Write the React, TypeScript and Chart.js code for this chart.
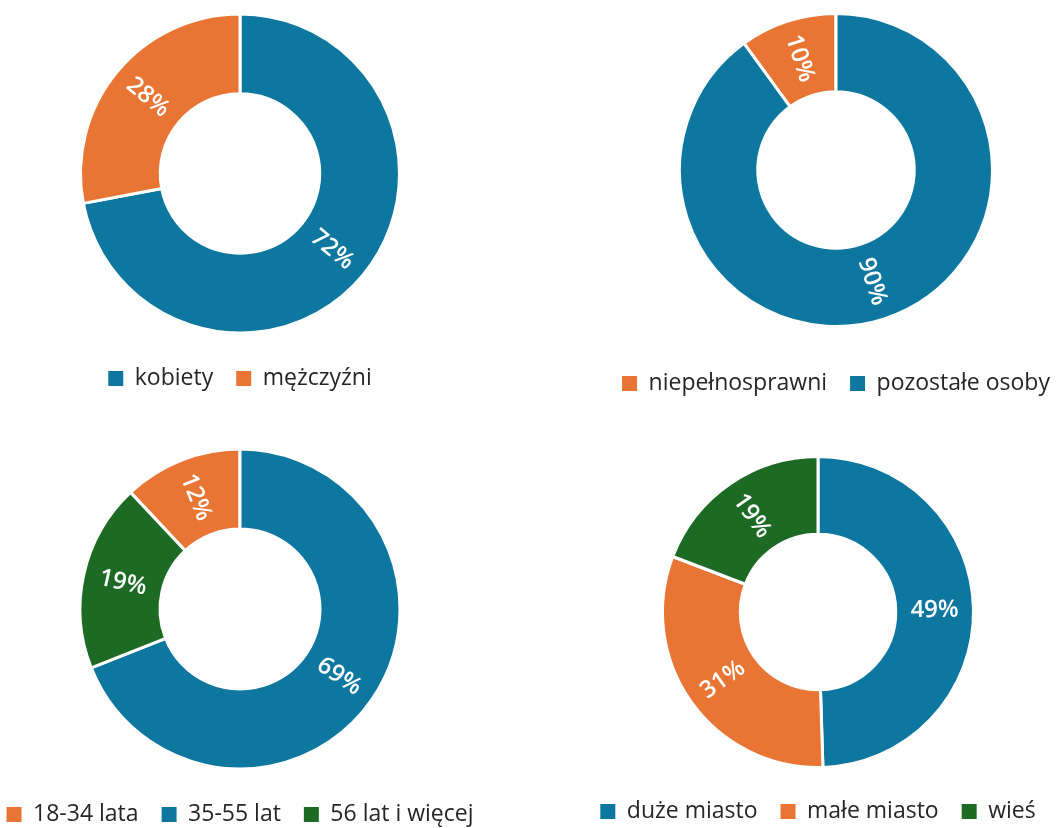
import React, { useEffect, useRef } from 'react';
import { Chart, registerables } from 'chart.js';

Chart.register(...registerables);

const BLUE = '#0E77A0';
const ORANGE = '#E97534';
const GREEN = '#1D6A25';

// Chart 1: gender
const genderLabels = ['kobiety', 'mężczyźni'];
const genderValues = [72, 28];
const genderColors = [BLUE, ORANGE];

// Chart 2: disability
const disabilityLabels = ['niepełnosprawni', 'pozostałe osoby'];
const disabilityValues = [10, 90];
const disabilityColors = [ORANGE, BLUE];

// Chart 3: age
const ageLabels = ['18-34 lata', '35-55 lat', '56 lat i więcej'];
const ageValues = [12, 69, 19];
const ageColors = [ORANGE, BLUE, GREEN];

// Chart 4: place of residence
const placeLabels = ['duże miasto', 'małe miasto', 'wieś'];
const placeValues = [49, 31, 19];
const placeColors = [BLUE, ORANGE, GREEN];

const FONT = '"Open Sans", "Noto Sans", sans-serif';

const sliceLabelPlugin = {
  id: 'sliceLabels',
  afterDatasetsDraw(chart: any) {
    const ctx = chart.ctx;
    const ds = chart.data.datasets[0];
    const meta = chart.getDatasetMeta(0);
    meta.data.forEach((arc: any, i: number) => {
      const p = arc.getProps(['x', 'y', 'startAngle', 'endAngle', 'innerRadius', 'outerRadius'], true);
      const mid = (p.startAngle + p.endAngle) / 2;
      const r = (p.innerRadius + p.outerRadius) / 2;
      const x = p.x + Math.cos(mid) * r;
      const y = p.y + Math.sin(mid) * r;
      let ang = mid;
      if (Math.cos(ang) < -1e-6) ang += Math.PI;
      ctx.save();
      ctx.translate(x, y);
      ctx.rotate(ang);
      ctx.fillStyle = '#ffffff';
      ctx.font = `600 24px ${FONT}`;
      ctx.textAlign = 'center';
      ctx.textBaseline = 'middle';
      ctx.fillText(`${ds.data[i]}%`, 0, 0);
      ctx.restore();
    });
  },
};

type Spec = {
  labels: string[];
  values: number[];
  colors: string[];
  left: number;
  top: number;
  width: number;
  height: number;
  radius: number;
  firstBeforeTop: boolean;
};

function Donut({ spec }: { spec: Spec }) {
  const ref = useRef<HTMLCanvasElement>(null);
  useEffect(() => {
    const sum = spec.values.reduce((a, b) => a + b, 0);
    const rotation = spec.firstBeforeTop ? (-360 * spec.values[0]) / sum : 0;
    const chart = new Chart(ref.current as HTMLCanvasElement, {
      type: 'doughnut',
      data: {
        labels: spec.labels,
        datasets: [
          {
            data: spec.values,
            backgroundColor: spec.colors,
            borderColor: '#ffffff',
            borderWidth: 3,
          },
        ],
      },
      options: {
        responsive: false,
        animation: false,
        rotation,
        cutout: '50%',
        radius: spec.radius,
        layout: { padding: 0 },
        plugins: {
          tooltip: { enabled: false },
          legend: {
            position: 'bottom',
            labels: {
              boxWidth: 15,
              boxHeight: 15,
              padding: 23,
              color: '#262626',
              font: { family: FONT, size: 23 },
              generateLabels: (c: any) => {
                const base = (Chart as any).overrides.doughnut.plugins.legend.labels.generateLabels(c);
                return base.map((l: any) => ({ ...l, lineWidth: 0, strokeStyle: 'rgba(0,0,0,0)' }));
              },
            },
          },
        },
      } as any,
      plugins: [sliceLabelPlugin],
    });
    return () => chart.destroy();
  }, []);
  return (
    <canvas
      ref={ref}
      width={spec.width}
      height={spec.height}
      style={{ position: 'absolute', left: spec.left, top: spec.top, width: spec.width, height: spec.height }}
    />
  );
}

const specs: Spec[] = [
  { labels: genderLabels, values: genderValues, colors: genderColors, left: -30, top: 3, width: 540, height: 397, radius: 159.5, firstBeforeTop: false },
  { labels: disabilityLabels, values: disabilityValues, colors: disabilityColors, left: 566, top: -9, width: 540, height: 414, radius: 156.5, firstBeforeTop: true },
  { labels: ageLabels, values: ageValues, colors: ageColors, left: -30, top: 438, width: 540, height: 398, radius: 160, firstBeforeTop: true },
  { labels: placeLabels, values: placeValues, colors: placeColors, left: 548, top: 447, width: 540, height: 386, radius: 155.5, firstBeforeTop: false },
];

export default function App() {
  return (
    <div
      style={{
        position: 'fixed',
        left: 0,
        top: 0,
        width: 1062,
        height: 828,
        overflow: 'hidden',
        background: '#ffffff',
      }}
    >
      {specs.map((s, i) => (
        <Donut key={i} spec={s} />
      ))}
    </div>
  );
}
